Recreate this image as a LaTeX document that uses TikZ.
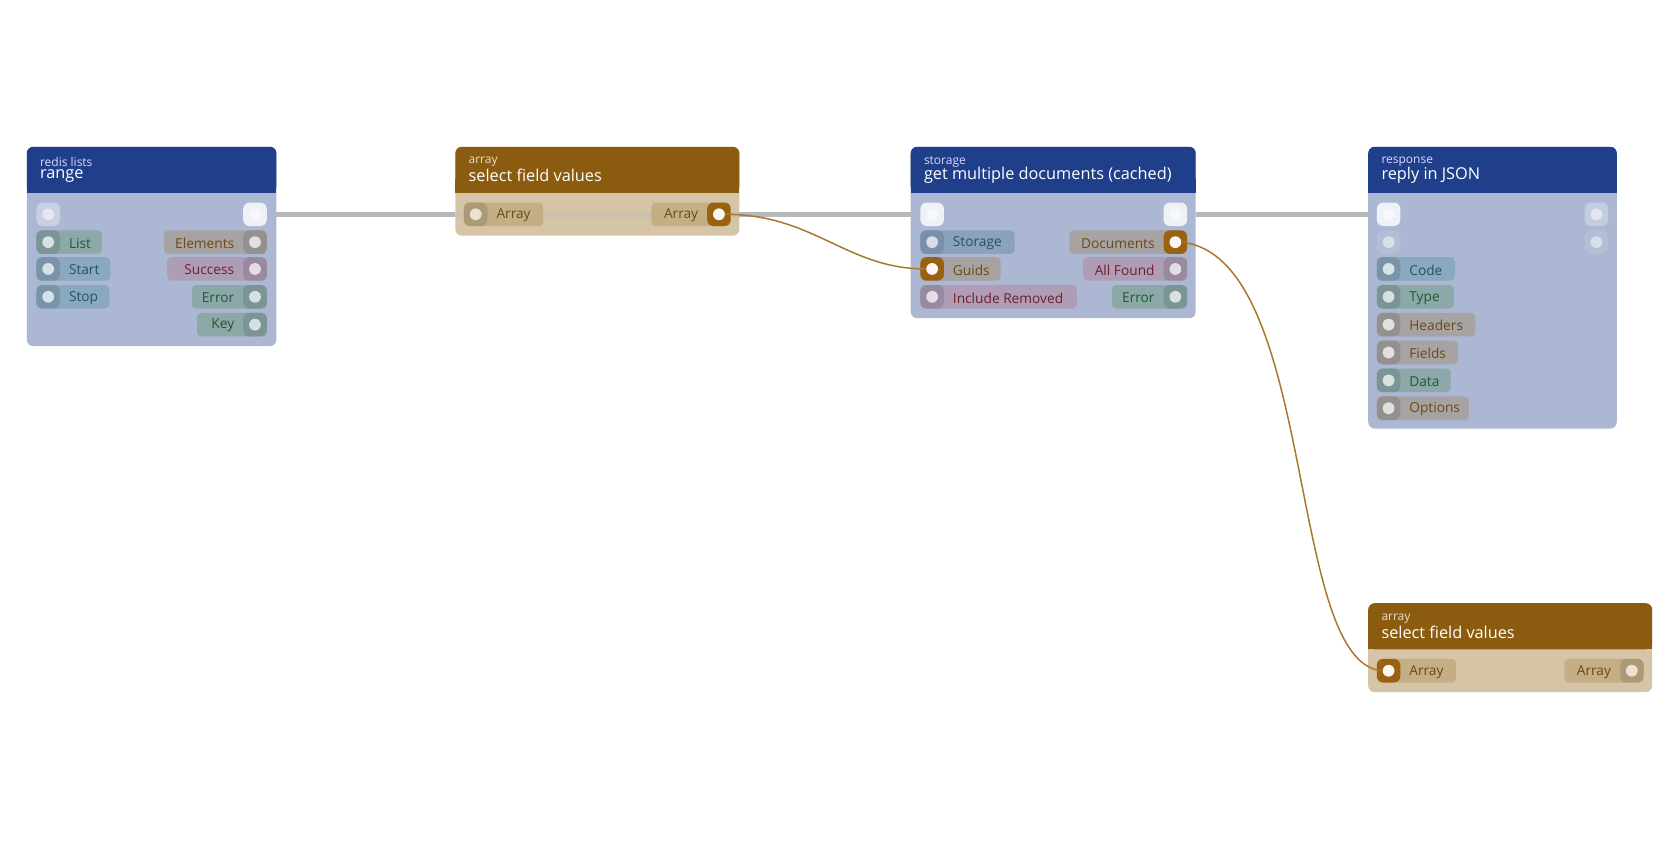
\documentclass[tikz,border=0pt]{standalone}
\usepackage{fontspec}
\setmainfont{Open Sans}
\begin{document}
\definecolor{hblue}{HTML}{1F3F8A}\definecolor{bblue}{HTML}{ABB7D3}
\definecolor{hbrown}{HTML}{8B5C10}\definecolor{bbrown}{HTML}{D5C5A6}
\definecolor{pgreen}{HTML}{8CA8A8}\definecolor{pblue}{HTML}{8AA8BE}
\definecolor{pgray}{HTML}{A8A3A3}\definecolor{pmauve}{HTML}{AE9DB5}
\definecolor{pbrown}{HTML}{C4AE85}\definecolor{pslate}{HTML}{8BA2BF}
\definecolor{tgreen}{HTML}{1E5A32}\definecolor{tteal}{HTML}{1F5560}
\definecolor{tbrown}{HTML}{6B4A10}\definecolor{tmaroon}{HTML}{6B2030}
\definecolor{act}{HTML}{9A6210}\definecolor{wire}{HTML}{A8782C}
\begin{tikzpicture}[x=0.5pt,y=-0.5pt,
  lbl/.style={font=\fontsize{6.4}{7}\selectfont,anchor=west,inner sep=0},
  ttl/.style={font=\fontsize{7.6}{8}\selectfont,anchor=west,inner sep=0,text=white},
  sub/.style={font=\fontsize{5.6}{6}\selectfont,anchor=west,inner sep=0,text=white!85!blue},
  dot/.style={circle,inner sep=0,minimum size=5.5pt,fill=#1}]
\useasboundingbox (0,0) rectangle (1568,784);
\newcommand\nodebox[6]{%
  \fill[#6,rounded corners=3pt] (#1,#3) rectangle (#2,#4);
  \fill[#5,rounded corners=3pt] (#1,#3) rectangle (#2,#3+43);
  \fill[#5] (#1,#3+30) rectangle (#2,#3+43);}
\newcommand\LP[8]{%
  \fill[#5,rounded corners=2pt] (#2,#3-11) rectangle (#2+#4,#3+11);
  \ifnum#8=1 \fill[act,rounded corners=3pt] (#2,#3-11) rectangle (#2+22,#3+11);
     \node[dot=white!95!act] (#1) at (#2+11,#3) {};
  \else \fill[#5!88!black,rounded corners=3pt] (#2,#3-11) rectangle (#2+22,#3+11);
     \node[dot=white!65!#5] (#1) at (#2+11,#3) {};\fi
  \node[lbl,text=#6] at (#2+30,#3+1) {#7};}
\newcommand\RP[8]{%
  \fill[#5,rounded corners=2pt] (#2-#4,#3-11) rectangle (#2,#3+11);
  \ifnum#8=1 \fill[act,rounded corners=3pt] (#2-22,#3-11) rectangle (#2,#3+11);
     \node[dot=white!95!act] (#1) at (#2-11,#3) {};
  \else \fill[#5!88!black,rounded corners=3pt] (#2-22,#3-11) rectangle (#2,#3+11);
     \node[dot=white!65!#5] (#1) at (#2-11,#3) {};\fi
  \node[lbl,text=#6,anchor=east] at (#2-30,#3+1) {#7};}
\newcommand\EX[4]{%
  \fill[white!#4!bblue,rounded corners=3pt] (#2-11,#3-11) rectangle (#2+11,#3+11);
  \node[dot=white!#4!bblue!50!white] (#1) at (#2,#3) {};}
% boxes
\nodebox{25}{258}{137}{323}{hblue}{bblue}
\nodebox{850}{1116}{137}{297}{hblue}{bblue}
\nodebox{1277}{1509}{137}{400}{hblue}{bblue}
\nodebox{425}{690}{137}{220}{hbrown}{bbrown}
\nodebox{1277}{1542}{563}{646}{hbrown}{bbrown}
% exec wires (behind ports)
\coordinate (w1) at (258,200); \coordinate (w2) at (425,200);
\coordinate (w3) at (690,200); \coordinate (w4) at (850,200);
\coordinate (w5) at (1116,200); \coordinate (w6) at (1277,200);
\draw[line width=2.5pt,black!28] (w1) -- (w2);
\draw[line width=2.5pt,black!28,opacity=.35] (w2) -- (w3);
\draw[line width=2.5pt,black!28] (w3) -- (w4);
\draw[line width=2.5pt,black!28] (w5) -- (w6);
% node 1
\node[sub] at (37,151) {redis lists};
\node[ttl] at (37,164) {range};
\EX{n1in}{45}{200}{35}\EX{n1out}{238}{200}{80}
\LP{n1list}{34}{226}{61}{pgreen}{tgreen}{List}{0}
\LP{n1start}{34}{251}{69}{pblue}{tteal}{Start}{0}
\LP{n1stop}{34}{277}{68}{pblue}{tteal}{Stop}{0}
\RP{n1el}{249}{226}{96}{pgray}{tbrown}{Elements}{0}
\RP{n1su}{249}{251}{93}{pmauve}{tmaroon}{Success}{0}
\RP{n1er}{249}{277}{70}{pgreen}{tgreen}{Error}{0}
\RP{n1key}{249}{303}{65}{pgreen}{tgreen}{Key}{0}
% node 2
\node[sub,text=white!80!hbrown] at (437,151) {array};
\node[ttl] at (437,164) {select field values};
\LP{n2in}{433}{200}{74}{pbrown}{tbrown}{Array}{0}
\RP{n2out}{682}{200}{74}{pbrown}{tbrown}{Array}{1}
% node 3
\node[sub] at (862,151) {storage};
\node[ttl] at (862,164) {get multiple documents (cached)};
\EX{n3in}{870}{200}{80}\EX{n3out}{1097}{200}{80}
\LP{n3st}{859}{226}{88}{pslate}{tteal}{Storage}{0}
\LP{n3gu}{859}{251}{75}{pgray}{tbrown}{Guids}{1}
\LP{n3ir}{859}{277}{146}{pmauve}{tmaroon}{Include Removed}{0}
\RP{n3doc}{1108}{226}{110}{pgray}{tbrown}{Documents}{1}
\RP{n3af}{1108}{251}{97}{pmauve}{tmaroon}{All Found}{0}
\RP{n3er}{1108}{277}{70}{pgreen}{tgreen}{Error}{0}
% node 4
\node[sub] at (1289,151) {response};
\node[ttl] at (1289,164) {reply in JSON};
\EX{n4in}{1296}{200}{80}\EX{n4out}{1490}{200}{30}
\EX{n4in2}{1296}{226}{10}\EX{n4out2}{1490}{226}{10}
\LP{n4code}{1285}{251}{73}{pblue}{tteal}{Code}{0}
\LP{n4type}{1285}{277}{72}{pgreen}{tgreen}{Type}{0}
\LP{n4head}{1285}{303}{92}{pgray}{tbrown}{Headers}{0}
\LP{n4fie}{1285}{329}{76}{pgray}{tbrown}{Fields}{0}
\LP{n4data}{1285}{355}{69}{pgreen}{tgreen}{Data}{0}
\LP{n4opt}{1285}{381}{86}{pgray}{tbrown}{Options}{0}
% node 5
\node[sub,text=white!80!hbrown] at (1289,577) {array};
\node[ttl] at (1289,590) {select field values};
\LP{n5in}{1285}{626}{74}{pbrown}{tbrown}{Array}{1}
\RP{n5out}{1534}{626}{74}{pbrown}{tbrown}{Array}{0}
% data wires
\draw[wire,line width=0.7pt] (n2out.east) .. controls (760,200) and (790,251) .. (n3gu.west);
\draw[wire,line width=0.7pt] (n3doc.east) .. controls (1230,240) and (1200,620) .. (n5in.west);
\end{tikzpicture}
\end{document}
